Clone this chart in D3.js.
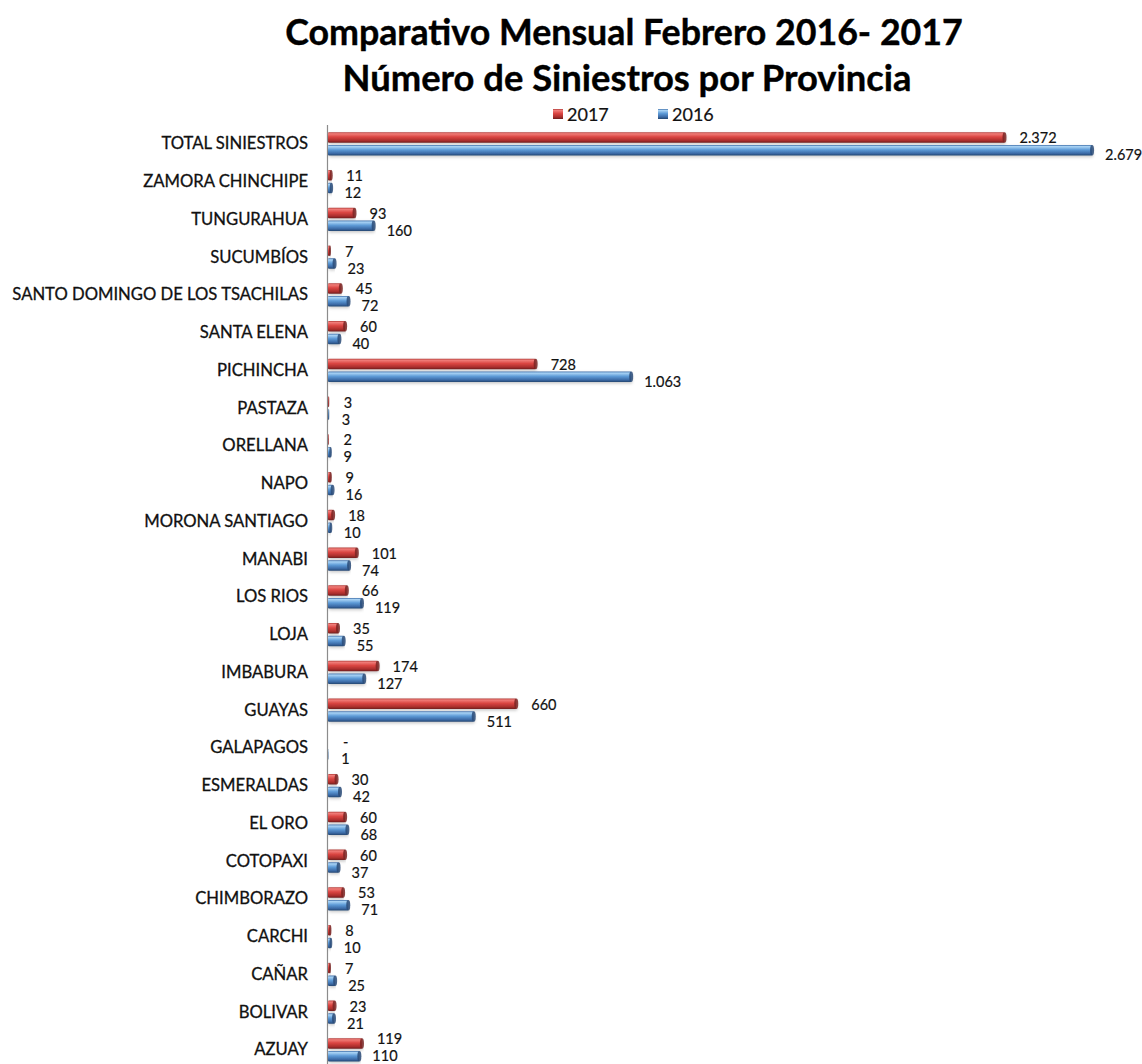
<!DOCTYPE html>
<html>
<head>
<meta charset="utf-8">
<script src="https://cdn.jsdelivr.net/npm/d3@7"></script>
<style>
  html, body { margin: 0; padding: 0; background: #fff; }
  svg { display: block; }
</style>
</head>
<body>
<svg id="chart" width="1142" height="1064"></svg>
<script>
// Provinces, top to bottom as listed
const provincias = [
  "TOTAL SINIESTROS", "ZAMORA CHINCHIPE", "TUNGURAHUA", "SUCUMBÍOS",
  "SANTO DOMINGO DE LOS TSACHILAS", "SANTA ELENA", "PICHINCHA", "PASTAZA",
  "ORELLANA", "NAPO", "MORONA SANTIAGO", "MANABI", "LOS RIOS", "LOJA",
  "IMBABURA", "GUAYAS", "GALAPAGOS", "ESMERALDAS", "EL ORO", "COTOPAXI",
  "CHIMBORAZO", "CARCHI", "CAÑAR", "BOLIVAR", "AZUAY"
];
// Accidents per province, February
const siniestros2017 = [2372, 11, 93, 7, 45, 60, 728, 3, 2, 9, 18, 101, 66, 35, 174, 660, 0, 30, 60, 60, 53, 8, 7, 23, 119];
const siniestros2016 = [2679, 12, 160, 23, 72, 40, 1063, 3, 9, 16, 10, 74, 119, 55, 127, 511, 1, 42, 68, 37, 71, 10, 25, 21, 110];
const series = ["2017", "2016"];
const titulo = ["Comparativo Mensual Febrero 2016- 2017", "Número de Siniestros por Provincia"];

const W = 1142, H = 1064;
const svg = d3.select("#chart");
const FONT = "Lato, 'Open Sans', sans-serif";

// Shrinks or grows a text element's font so it spans the given width
function fitWidth(sel, width) {
  const fs = parseFloat(sel.attr("font-size"));
  const w = sel.node().getComputedTextLength();
  sel.attr("font-size", fs * width / w);
}

// Title
const t1 = svg.append("text").attr("x", 624).attr("y", 45)
  .attr("text-anchor", "middle").attr("font-family", FONT).attr("font-weight", 700)
  .attr("font-size", 32).attr("fill", "#000").attr("stroke", "#000").attr("stroke-width", 0.4)
  .text(titulo[0]);
fitWidth(t1, 678);
const t2 = svg.append("text").attr("x", 627).attr("y", 91)
  .attr("text-anchor", "middle").attr("font-family", FONT).attr("font-weight", 700)
  .attr("font-size", 32).attr("fill", "#000").attr("stroke", "#000").attr("stroke-width", 0.4)
  .text(titulo[1]);
fitWidth(t2, 569);

// Gradients giving the bars a cylinder look
const defs = svg.append("defs");
function cyl(id, stops) {
  const g = defs.append("linearGradient").attr("id", id)
    .attr("x1", 0).attr("y1", 0).attr("x2", 0).attr("y2", 1);
  stops.forEach(([o, c]) => g.append("stop").attr("offset", o).attr("stop-color", c));
}
cyl("g2017", [[0, "#b23c3a"], [0.14, "#f07c78"], [0.45, "#da4542"], [0.8, "#a92e2c"], [1, "#6c1e1d"]]);
cyl("g2016", [[0, "#3f70aa"], [0.14, "#a9d3f5"], [0.45, "#5e9bd7"], [0.8, "#3a69a5"], [1, "#23456e"]]);
const shadow = defs.append("filter").attr("id", "halo")
  .attr("x", "-5%").attr("y", "-60%").attr("width", "110%").attr("height", "220%");
shadow.append("feDropShadow").attr("dx", 1).attr("dy", 1.5).attr("stdDeviation", 1.6)
  .attr("flood-color", "#000").attr("flood-opacity", 0.22);

// Legend
const legend = [{ x: 553, fill: "url(#g2017)", cap: "#7a2423" }, { x: 658, fill: "url(#g2016)", cap: "#2a4b78" }];
legend.forEach((l, i) => {
  svg.append("rect").attr("x", l.x).attr("y", 109).attr("width", 10).attr("height", 10)
    .attr("fill", l.fill);
  svg.append("text").attr("x", l.x + 14).attr("y", 121).attr("font-family", FONT)
    .attr("font-size", 18).attr("fill", "#111").attr("stroke", "#111").attr("stroke-width", 0.2)
    .text(series[i]);
});

// Scales
const x = d3.scaleLinear().domain([0, 2700]).range([328, 328 + 2700 * 0.2852]);
const y = d3.scaleBand().domain(provincias).range([124.4, 124.4 + 25 * 37.75]);

// Category axis
const axis = svg.append("g").attr("transform", "translate(327,0)")
  .call(d3.axisLeft(y).tickSize(0).tickSizeOuter(0).tickPadding(19));
axis.select(".domain").attr("stroke", "#8c8c8c").attr("stroke-width", 1.2);
const ticks = axis.selectAll(".tick text")
  .attr("font-family", FONT).attr("font-size", 15).attr("fill", "#111")
  .attr("stroke", "#111").attr("stroke-width", 0.3).attr("dy", "0.36em");
let longest = 0;
ticks.each(function () { longest = Math.max(longest, this.getComputedTextLength()); });
ticks.attr("font-size", 15 * 296 / longest);

// Bars
const fmt = v => v === 0 ? "-" : d3.format(",")(v).replace(/,/g, ".");
const rows = provincias.map((p, i) => ({ p, v: [siniestros2017[i], siniestros2016[i]] }));
const barH = 10.5;
const barY = [-11, 1.8];   // offset of each series from the row centre
const labDx = [15, 13];
const labDy = [-4, 12];

rows.forEach(r => {
  const c = y(r.p) + y.bandwidth() / 2;
  // label positions, kept inside the frame and clear of each other
  const ly1 = Math.min(c + labDy[1], H - 8);
  const ly0 = Math.min(c + labDy[0], ly1 - 17);
  const ly = [ly0, ly1];
  r.v.forEach((v, k) => {
    const g = svg.append("g");
    if (v > 0) {
      g.append("rect").attr("x", x(0)).attr("y", c + barY[k])
        .attr("width", x(v) - x(0)).attr("height", barH)
        .attr("rx", 1).attr("fill", legend[k].fill).attr("filter", "url(#halo)");
      g.append("ellipse").attr("cx", x(v)).attr("cy", c + barY[k] + barH / 2)
        .attr("rx", Math.min(2, (x(v) - x(0)) / 2)).attr("ry", barH / 2)
        .attr("fill", legend[k].cap).attr("opacity", 0.85);
    }
    svg.append("text").attr("x", x(v) + labDx[k]).attr("y", ly[k])
      .attr("dy", "0.35em").attr("font-family", FONT).attr("font-size", 14.5)
      .attr("fill", "#111").attr("stroke", "#111").attr("stroke-width", 0.2).text(fmt(v));
  });
});
</script>
</body>
</html>
